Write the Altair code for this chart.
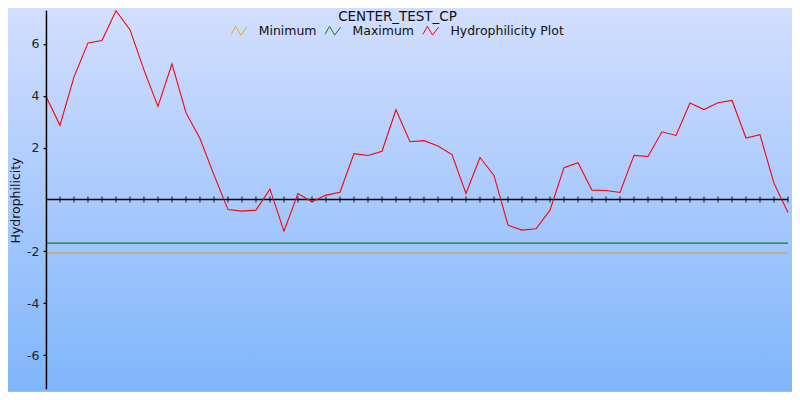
import altair as alt
import pandas as pd

# ---- data ----
positions = list(range(54))
hydrophilicity = [3.98, 2.86, 4.72, 6.04, 6.13, 7.28, 6.55, 5.0, 3.59, 5.23,
                  3.35, 2.35, 0.95, -0.39, -0.45, -0.41, 0.40, -1.22, 0.23, -0.09,
                  0.17, 0.28, 1.77, 1.70, 1.86, 3.46, 2.23, 2.27, 2.06, 1.73,
                  0.23, 1.62, 0.93, -0.99, -1.18, -1.13, -0.41, 1.23, 1.42, 0.36,
                  0.35, 0.27, 1.70, 1.66, 2.61, 2.47, 3.72, 3.47, 3.73, 3.82,
                  2.37, 2.50, 0.62, -0.50]
minimum_value = -2.07
maximum_value = -1.68
series_names = ["Minimum", "Maximum", "Hydrophilicity Plot"]
series_colors = ["#f2a422", "#0b7d1c", "#ff0000"]
y_tick_values = [-6, -4, -2, 2, 4, 6]
y_domain = [-7.3, 7.3]
chart_title = "CENTER_TEST_CP"
y_title = "Hydrophilicity"

W, H = 743, 379
FONT = "DejaVu Sans"

main_df = pd.DataFrame({"pos": positions, "value": hydrophilicity,
                        "series": "Hydrophilicity Plot"})
ref_df = pd.DataFrame({
    "pos": [positions[0], positions[-1], positions[0], positions[-1]],
    "value": [minimum_value, minimum_value, maximum_value, maximum_value],
    "series": ["Minimum", "Minimum", "Maximum", "Maximum"],
})
tick_df = pd.DataFrame({"pos": positions[1:]})
one = pd.DataFrame({"t": [chart_title]})

xscale = alt.Scale(domain=[positions[0], positions[-1]], nice=False, zero=False)
yscale = alt.Scale(domain=y_domain, nice=False, zero=False)
cscale = alt.Scale(domain=series_names, range=series_colors)

zigzag = "M-1,0.45L-0.45,-0.55L0.2,0.55L0.95,-0.45"

legend = alt.Legend(
    title=None, orient="none", legendX=185, legendY=12, direction="horizontal",
    symbolType=zigzag, symbolSize=256, symbolStrokeWidth=1,
    symbolFillColor="transparent",
    labelFontSize=12.5, labelFont=FONT, labelColor="#111111",
    labelOffset=11, columnPadding=6, padding=0,
)

yaxis = alt.Axis(
    values=y_tick_values, title=y_title, grid=False, zindex=2,
    domainColor="black", domainWidth=1.5, tickColor="black", tickSize=3,
    tickWidth=1.2, labelFontSize=12.5, labelFont=FONT, labelColor="#222222",
    labelPadding=4, labelExpr="datum.value + ''",
    titleFont=FONT, titleFontSize=12.5, titleFontWeight="normal",
    titleColor="#111111", titleX=-30, titleY=190, titleAngle=270,
    titleAlign="center", titleBaseline="middle",
)

bg = alt.Chart(one).mark_rect(
    fill=alt.LinearGradient(
        gradient="linear", x1=0, y1=0, x2=0, y2=1,
        stops=[alt.GradientStop(color="#d2defe", offset=0),
               alt.GradientStop(color="#7fb6fb", offset=1)]),
).encode(x=alt.value(-38), x2=alt.value(W + 4), y=alt.value(-2), y2=alt.value(H + 3))

ref_lines = alt.Chart(ref_df).mark_line(strokeWidth=1.2).encode(
    x=alt.X("pos:Q", scale=xscale, axis=None),
    y=alt.Y("value:Q", scale=yscale, axis=yaxis),
    color=alt.Color("series:N", scale=cscale, legend=legend),
    detail="series:N",
)

zero_rule = alt.Chart(one).mark_rule(color="black", strokeWidth=1.5).encode(
    y=alt.datum(0, scale=yscale), x=alt.value(0), x2=alt.value(W))

ticks = alt.Chart(tick_df).mark_tick(
    color="black", orient="vertical", size=6, thickness=1.3).encode(
    x=alt.X("pos:Q", scale=xscale, axis=None),
    y=alt.datum(0, scale=yscale))

main_line = alt.Chart(main_df).mark_line(strokeWidth=1.1).encode(
    x=alt.X("pos:Q", scale=xscale, axis=None),
    y=alt.Y("value:Q", scale=yscale, axis=yaxis),
    color=alt.Color("series:N", scale=cscale, legend=legend),
)

title = alt.Chart(one).mark_text(
    font=FONT, fontSize=13.5, color="#111111", align="center",
    baseline="alphabetic").encode(
    text="t:N", x=alt.value(352), y=alt.value(11))

chart = alt.layer(bg, ref_lines, zero_rule, ticks, main_line, title).properties(
    width=W, height=H,
    autosize=alt.AutoSizeParams(type="none"),
    padding={"left": 38, "top": 2, "right": 4, "bottom": 3},
    background="#d2defe",
).configure_view(stroke=None).configure(font=FONT)

chart.save("out.html", embed_options={"renderer": "svg", "actions": False})
